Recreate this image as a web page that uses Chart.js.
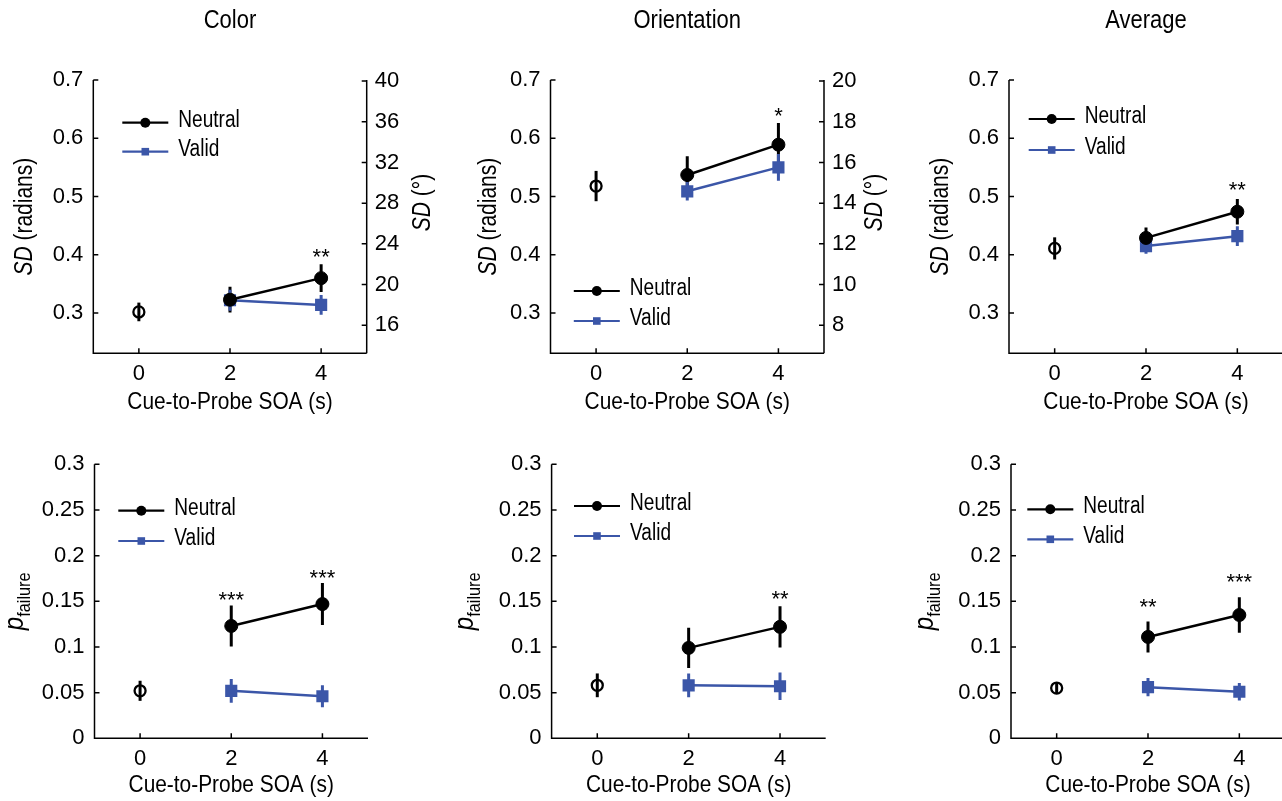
<!DOCTYPE html>
<html>
<head>
<meta charset="utf-8">
<script src="https://cdn.jsdelivr.net/npm/chart.js@4.4.1/dist/chart.umd.min.js"></script>
<style>
html, body { margin: 0; padding: 0; background: #fff; width: 1282px; height: 801px; overflow: hidden; }
canvas { position: absolute; }
</style>
</head>
<body>
<script>
const FONT = '"Liberation Sans", Arial, sans-serif';
const BLUE = '#3b56a8';

// x values
const soaTicks = [0, 2, 4];
const uncuedSoa = [0];
const cuedSoa = [2, 4];

// tick labels
const sdTicks = [0.3, 0.4, 0.5, 0.6, 0.7];
const pTicks = [0, 0.05, 0.1, 0.15, 0.2, 0.25, 0.3];
const colorDegTicks = [16, 20, 24, 28, 32, 36, 40];
const orientDegTicks = [8, 10, 12, 14, 16, 18, 20];

// SD (radians) - Color
const colorSdBase = [0.302];
const colorSdBaseErr = [0.016];
const colorSdNeutral = [0.323, 0.360];
const colorSdNeutralErr = [0.022, 0.024];
const colorSdValid = [0.322, 0.314];
const colorSdValidErr = [0.018, 0.017];
const colorSdStars = ['', '**'];
const colorSdStarY = [0, 0.405];

// SD (radians) - Orientation
const orientSdBase = [0.518];
const orientSdBaseErr = [0.026];
const orientSdNeutral = [0.537, 0.589];
const orientSdNeutralErr = [0.032, 0.037];
const orientSdValid = [0.509, 0.550];
const orientSdValidErr = [0.016, 0.023];
const orientSdStars = ['', '*'];
const orientSdStarY = [0, 0.648];

// SD (radians) - Average
const avgSdBase = [0.411];
const avgSdBaseErr = [0.019];
const avgSdNeutral = [0.429, 0.474];
const avgSdNeutralErr = [0.018, 0.022];
const avgSdValid = [0.415, 0.432];
const avgSdValidErr = [0.013, 0.017];
const avgSdStars = ['', '**'];
const avgSdStarY = [0, 0.520];

// p failure - Color
const colorPBase = [0.052];
const colorPBaseErr = [0.011];
const colorPNeutral = [0.123, 0.147];
const colorPNeutralErr = [0.0225, 0.023];
const colorPValid = [0.052, 0.046];
const colorPValidErr = [0.013, 0.012];
const colorPStars = ['***', '***'];
const colorPStarY = [0.157, 0.181];

// p failure - Orientation
const orientPBase = [0.058];
const orientPBaseErr = [0.013];
const orientPNeutral = [0.099, 0.122];
const orientPNeutralErr = [0.022, 0.0225];
const orientPValid = [0.058, 0.057];
const orientPValidErr = [0.013, 0.015];
const orientPStars = ['', '**'];
const orientPStarY = [0, 0.159];

// p failure - Average
const avgPBase = [0.055];
const avgPBaseErr = [0.006];
const avgPNeutral = [0.111, 0.135];
const avgPNeutralErr = [0.017, 0.0195];
const avgPValid = [0.056, 0.051];
const avgPValidErr = [0.010, 0.0095];
const avgPStars = ['**', '***'];
const avgPStarY = [0.1496, 0.177];

Chart.defaults.font.family = FONT;
Chart.defaults.color = '#000';

const panels = [
  { row: 0, area: [93.3, 80, 366.7, 353.3], title: 'Color', kind: 'sd', yTicks: sdTicks, yMin: 0.231, yMax: 0.7,
    y2Ticks: colorDegTicks, y2Factor: 180 / Math.PI, yTitleDx: 61.6, y2TitleDx: 63.3,
    base: colorSdBase, baseErr: colorSdBaseErr, neutral: colorSdNeutral, neutralErr: colorSdNeutralErr,
    valid: colorSdValid, validErr: colorSdValidErr, stars: colorSdStars, starY: colorSdStarY, legend: [29, 42.7, 71.7] },
  { row: 0, area: [550.5, 80, 824, 353.3], title: 'Orientation', kind: 'sd', yTicks: sdTicks, yMin: 0.231, yMax: 0.7,
    y2Ticks: orientDegTicks, y2Factor: 90 / Math.PI, yTitleDx: 54.2, y2TitleDx: 58,
    base: orientSdBase, baseErr: orientSdBaseErr, neutral: orientSdNeutral, neutralErr: orientSdNeutralErr,
    valid: orientSdValid, validErr: orientSdValidErr, stars: orientSdStars, starY: orientSdStarY, legend: [23.3, 211, 241] },
  { row: 0, area: [1009, 80, 1283, 353.3], title: 'Average', kind: 'sd', yTicks: sdTicks, yMin: 0.231, yMax: 0.7,
    yTitleDx: 61.3,
    base: avgSdBase, baseErr: avgSdBaseErr, neutral: avgSdNeutral, neutralErr: avgSdNeutralErr,
    valid: avgSdValid, validErr: avgSdValidErr, stars: avgSdStars, starY: avgSdStarY, legend: [19.7, 39, 70] },
  { row: 1, area: [94.5, 464.3, 368, 738.3], kind: 'p', yTicks: pTicks, yMin: 0, yMax: 0.3, yTitleDx: 71.5,
    base: colorPBase, baseErr: colorPBaseErr, neutral: colorPNeutral, neutralErr: colorPNeutralErr,
    valid: colorPValid, validErr: colorPValidErr, stars: colorPStars, starY: colorPStarY, legend: [23.8, 46.4, 76.7] },
  { row: 1, area: [551.6, 464.3, 825.7, 738.3], kind: 'p', yTicks: pTicks, yMin: 0, yMax: 0.3, yTitleDx: 78.6,
    base: orientPBase, baseErr: orientPBaseErr, neutral: orientPNeutral, neutralErr: orientPNeutralErr,
    valid: orientPValid, validErr: orientPValidErr, stars: orientPStars, starY: orientPStarY, legend: [22.4, 41.7, 71.7] },
  { row: 1, area: [1011, 464.3, 1285, 738.3], kind: 'p', yTicks: pTicks, yMin: 0, yMax: 0.3, yTitleDx: 78,
    base: avgPBase, baseErr: avgPBaseErr, neutral: avgPNeutral, neutralErr: avgPNeutralErr,
    valid: avgPValid, validErr: avgPValidErr, stars: avgPStars, starY: avgPStarY, legend: [16.3, 45, 75] }
];

function tickLabel(v) {
  return String(Number(v.toFixed(2)));
}

// the original uses a condensed face, so squeeze our own text a little
function fillNarrow(ctx, text, x, y, sx) {
  ctx.save();
  ctx.translate(x, y);
  ctx.scale(sx, 1);
  ctx.fillText(text, 0, 0);
  ctx.restore();
}

// rotated text made of pieces (italic / normal / subscript)
function drawRotated(ctx, bx, cy, parts, sx) {
  ctx.save();
  ctx.translate(bx, cy);
  ctx.rotate(-Math.PI / 2);
  ctx.scale(sx, 1);
  ctx.textAlign = 'left';
  ctx.textBaseline = 'alphabetic';
  const widths = parts.map(pt => { ctx.font = pt.font; return ctx.measureText(pt.text).width; });
  let x = -widths.reduce((a, b) => a + b, 0) / 2;
  parts.forEach((pt, i) => {
    ctx.font = pt.font;
    ctx.fillText(pt.text, x, pt.dy || 0);
    x += widths[i];
  });
  ctx.restore();
}

function decoPlugin(p) {
  return {
    id: 'deco',
    beforeDatasetsDraw(chart) {
      const ctx = chart.ctx, xs = chart.scales.x, ys = chart.scales.y;
      ctx.save();
      ctx.lineWidth = 3;
      chart.data.datasets.forEach(ds => {
        ctx.strokeStyle = ds.borderColor;
        ctx.beginPath();
        ds.data.forEach((pt, i) => {
          const x = xs.getPixelForValue(pt.x);
          ctx.moveTo(x, ys.getPixelForValue(pt.y - ds.errors[i]));
          ctx.lineTo(x, ys.getPixelForValue(pt.y + ds.errors[i]));
        });
        ctx.stroke();
      });
      ctx.restore();
    },
    afterDraw(chart) {
      const ctx = chart.ctx, xs = chart.scales.x, ys = chart.scales.y, y2 = chart.scales.y2;
      const { left: l, right: r, top: t, bottom: b } = chart.chartArea;
      ctx.save();
      ctx.strokeStyle = '#000';
      ctx.lineWidth = 1.5;
      ctx.beginPath();
      ctx.moveTo(l, t); ctx.lineTo(l, b); ctx.lineTo(r, b);
      if (y2) { ctx.moveTo(r, t); ctx.lineTo(r, b); }
      ys.ticks.forEach(tk => { const y = ys.getPixelForValue(tk.value); ctx.moveTo(l, y); ctx.lineTo(l + 5, y); });
      if (y2) y2.ticks.forEach(tk => { const y = y2.getPixelForValue(tk.value); ctx.moveTo(r, y); ctx.lineTo(r - 5, y); });
      xs.ticks.forEach(tk => { const x = xs.getPixelForValue(tk.value); ctx.moveTo(x, b); ctx.lineTo(x, b - 5); });
      ctx.stroke();

      const cx = (l + r) / 2, cy = (t + b) / 2;
      ctx.fillStyle = '#000';
      ctx.textAlign = 'center';
      ctx.textBaseline = 'middle';
      if (p.title) {
        ctx.font = '25px ' + FONT;
        fillNarrow(ctx, p.title, cx, 20.7, 0.88);
      }
      ctx.font = '24px ' + FONT;
      fillNarrow(ctx, 'Cue-to-Probe SOA (s)', cx, b + (p.row === 0 ? 49.2 : 46.7), 0.87);

      if (p.kind === 'sd') {
        drawRotated(ctx, l - p.yTitleDx, cy, [
          { text: 'SD', font: 'italic 25px ' + FONT },
          { text: ' (radians)', font: '25px ' + FONT }
        ], 0.84);
        if (y2) {
          drawRotated(ctx, r + p.y2TitleDx, 202.5, [
            { text: 'SD', font: 'italic 25px ' + FONT },
            { text: ' (\u00B0)', font: '25px ' + FONT }
          ], 0.84);
        }
      } else {
        drawRotated(ctx, l - p.yTitleDx, cy, [
          { text: 'p', font: 'italic 28px ' + FONT },
          { text: 'failure', font: '19px ' + FONT, dy: 7 }
        ], 0.86);
      }

      // significance stars above neutral points
      ctx.font = '22px ' + FONT;
      ctx.textBaseline = 'alphabetic';
      cuedSoa.forEach((x, i) => {
        if (!p.stars[i]) return;
        ctx.fillText(p.stars[i], xs.getPixelForValue(x), ys.getPixelForValue(p.starY[i]) + 12.5);
      });

      // legend
      const lx = l + p.legend[0], lw = 46;
      const rows = [
        { label: 'Neutral', color: '#000', y: t + p.legend[1], shape: 'circle' },
        { label: 'Valid', color: BLUE, y: t + p.legend[2], shape: 'rect' }
      ];
      rows.forEach(row => {
        ctx.strokeStyle = row.color;
        ctx.fillStyle = row.color;
        ctx.lineWidth = 2.2;
        ctx.beginPath();
        ctx.moveTo(lx, row.y); ctx.lineTo(lx + lw, row.y);
        ctx.stroke();
        const mx = lx + lw / 2;
        ctx.beginPath();
        if (row.shape === 'circle') ctx.arc(mx, row.y, 5, 0, Math.PI * 2);
        else ctx.rect(mx - 3.8, row.y - 3.8, 7.6, 7.6);
        ctx.fill();
        ctx.fillStyle = '#000';
        ctx.font = '23px ' + FONT;
        ctx.textAlign = 'left';
        ctx.textBaseline = 'middle';
        fillNarrow(ctx, row.label, lx + lw + 10, row.y - 2.5, 0.83);
      });
      ctx.restore();
    }
  };
}

function makePanel(p) {
  const [l, t, r, b] = p.area;
  const top = p.row === 0 ? 0 : 420;
  const height = p.row === 0 ? 420 : 381;
  const left = Math.floor(l) - 100;
  const width = Math.ceil(r) + 75 - left;
  const cv = document.createElement('canvas');
  cv.width = width; cv.height = height;
  cv.style.left = left + 'px'; cv.style.top = top + 'px';
  cv.style.width = width + 'px'; cv.style.height = height + 'px';
  document.body.appendChild(cv);

  const tickFont = { family: FONT, size: 22 };
  const scales = {
    x: {
      type: 'linear', min: -1, max: 5,
      afterBuildTicks: s => { s.ticks = soaTicks.map(v => ({ value: v })); },
      afterFit: s => { s.height = top + height - b; },
      grid: { display: false, drawTicks: false }, border: { display: false },
      ticks: { font: tickFont, padding: 7, autoSkip: false, maxRotation: 0, callback: v => String(v) }
    },
    y: {
      type: 'linear', position: 'left', min: p.yMin, max: p.yMax,
      afterBuildTicks: s => { s.ticks = p.yTicks.map(v => ({ value: v })); },
      afterFit: s => { s.width = l - left; },
      grid: { display: false, drawTicks: false }, border: { display: false },
      ticks: { font: tickFont, padding: 10, autoSkip: false, callback: v => tickLabel(v) }
    }
  };
  if (p.y2Ticks) {
    scales.y2 = {
      type: 'linear', position: 'right', min: p.yMin * p.y2Factor, max: p.yMax * p.y2Factor,
      afterBuildTicks: s => { s.ticks = p.y2Ticks.map(v => ({ value: v })); },
      afterFit: s => { s.width = left + width - r; },
      grid: { display: false, drawTicks: false }, border: { display: false },
      ticks: { font: tickFont, padding: 8, autoSkip: false, callback: v => String(v) }
    };
  }

  const datasets = [
    { label: 'Neutral', data: cuedSoa.map((x, i) => ({ x, y: p.neutral[i] })), errors: p.neutralErr,
      borderColor: '#000', backgroundColor: '#000', borderWidth: 2.5,
      pointStyle: 'circle', pointRadius: 6.5, pointHoverRadius: 6.5, pointBorderWidth: 1 },
    { label: 'Valid', data: cuedSoa.map((x, i) => ({ x, y: p.valid[i] })), errors: p.validErr,
      borderColor: BLUE, backgroundColor: BLUE, borderWidth: 2.5,
      pointStyle: 'rect', pointRadius: 8.6, pointHoverRadius: 8.6, pointBorderWidth: 0 },
    { label: 'Baseline', data: uncuedSoa.map((x, i) => ({ x, y: p.base[i] })), errors: p.baseErr,
      showLine: false, borderColor: '#000', backgroundColor: 'rgba(0,0,0,0)',
      pointStyle: 'circle', pointRadius: 5.5, pointHoverRadius: 5.5, pointBorderWidth: 2.3 }
  ];

  new Chart(cv, {
    type: 'line',
    data: { datasets },
    options: {
      responsive: false, animation: false, devicePixelRatio: 1,
      events: [],
      layout: { autoPadding: false, padding: { top: t - top, left: 0, bottom: 0, right: p.y2Ticks ? 0 : left + width - r } },
      plugins: { legend: { display: false }, tooltip: { enabled: false } },
      scales
    },
    plugins: [decoPlugin(p)]
  });
}

panels.forEach(makePanel);
</script>
</body>
</html>
